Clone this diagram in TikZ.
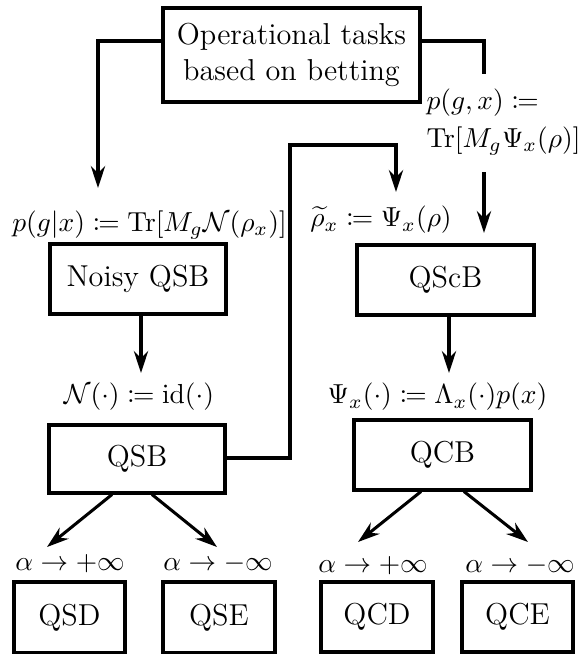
\documentclass[tikz,border=0pt]{standalone}
\usepackage{mathtools}
\usetikzlibrary{arrows.meta}
\begin{document}
\begin{tikzpicture}[x=0.3636pt,y=-0.3636pt,
  box/.style={draw,line width=1.1pt,rectangle,inner sep=0pt,align=center,font=\fontsize{11}{13}\selectfont},
  conn/.style={line width=1.1pt},
  arr/.style={line width=1.1pt,-{Stealth[length=8pt,width=5.2pt,inset=2.6pt]}},
  lab/.style={inner sep=0pt,font=\fontsize{9.85}{12}\selectfont}]
\useasboundingbox (0,0) rectangle (586,654);
% boxes
\node[box,minimum width={257*0.3636pt},minimum height={94*0.3636pt}] (top) at (291.5,55) {Operational tasks\\based on betting};
\node[box,minimum width={176*0.3636pt},minimum height={70*0.3636pt}] (noisy) at (138,279) {Noisy QSB};
\node[box,minimum width={177*0.3636pt},minimum height={70*0.3636pt}] (qscb) at (445.5,280) {QScB};
\node[box,minimum width={176*0.3636pt},minimum height={68*0.3636pt}] (qsb) at (137,459) {QSB};
\node[box,minimum width={177*0.3636pt},minimum height={70*0.3636pt}] (qcb) at (442.5,455) {QCB};
\node[box,minimum width={111*0.3636pt},minimum height={71*0.3636pt}] (qsd) at (69.5,617.5) {QSD};
\node[box,minimum width={112*0.3636pt},minimum height={71*0.3636pt}] (qse) at (219,617.5) {QSE};
\node[box,minimum width={112*0.3636pt},minimum height={70*0.3636pt}] (qcd) at (377,617) {QCD};
\node[box,minimum width={111*0.3636pt},minimum height={70*0.3636pt}] (qce) at (517.5,617) {QCE};
% labels
\node[lab] (l1) at (149.5,225) {$p(g|x) \coloneqq \mathrm{Tr}[M_g\mathcal{N}(\rho_x)]$};
\node[lab,align=left,anchor=west] (l2) at (426,122) {$p(g,x) \coloneqq$\\[2pt]$\mathrm{Tr}[M_g\Psi_x(\rho)]$};
\node[lab] (l3) at (381,220) {$\widetilde{\rho}_x \coloneqq \Psi_x(\rho)$};
\node[lab] (l4) at (139,397) {$\mathcal{N}(\cdot) \coloneqq \mathrm{id}(\cdot)$};
\node[lab] (l5) at (437.5,397) {$\Psi_x(\cdot) \coloneqq \Lambda_x(\cdot)p(x)$};
\node[lab] (a1) at (70,564) {$\alpha \to +\infty$};
\node[lab] (a2) at (218,564) {$\alpha \to -\infty$};
\node[lab] (a3) at (373,566) {$\alpha \to +\infty$};
\node[lab] (a4) at (520,566) {$\alpha \to -\infty$};
% coordinates
\coordinate (c1) at (98,41);
\coordinate (c1e) at (98,188);
\coordinate (c2) at (484,41);
\coordinate (c2a) at (484,74);
\coordinate (c2b) at (484,172);
\coordinate (c2e) at (484,233);
\coordinate (c3) at (290,458);
\coordinate (c3a) at (290,145);
\coordinate (c3b) at (396,145);
\coordinate (c3e) at (396,192);
\coordinate (c4) at (141,373);
\coordinate (c5) at (449,373);
\coordinate (d1s) at (112,493);
\coordinate (d1e) at (47,547);
\coordinate (d2s) at (152,493);
\coordinate (d2e) at (217,547);
\coordinate (d3s) at (421,490);
\coordinate (d3e) at (358,542);
\coordinate (d4s) at (464,490);
\coordinate (d4e) at (528,542);
% connectors
\draw[arr] (top.west |- c1) -- (c1) -- (c1e);
\draw[conn] (top.east |- c2) -- (c2) -- (c2a);
\draw[arr] (c2b) -- (c2e);
\draw[arr] (qsb.east |- c3) -- (c3) -- (c3a) -- (c3b) -- (c3e);
\draw[arr] (c4 |- noisy.south) -- (c4);
\draw[arr] (c5 |- qscb.south) -- (c5);
\draw[arr] (d1s |- qsb.south) -- (d1e);
\draw[arr] (d2s |- qsb.south) -- (d2e);
\draw[arr] (d3s |- qcb.south) -- (d3e);
\draw[arr] (d4s |- qcb.south) -- (d4e);
\end{tikzpicture}
\end{document}
